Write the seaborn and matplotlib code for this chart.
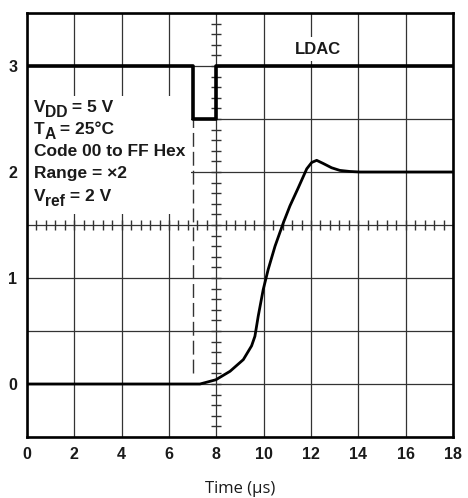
import numpy as np
import pandas as pd
import matplotlib
matplotlib.use("Agg")
import matplotlib.pyplot as plt
from matplotlib.patches import Rectangle
import seaborn as sns

# ---- data ----
time_us = [0, 7.31, 7.98, 8.58, 9.14, 9.49, 9.63, 9.77, 9.98, 10.19, 10.48,
           10.83, 11.11, 11.46, 11.82, 12.03, 12.24, 12.52, 12.87, 13.22,
           13.64, 14.07, 18]
vout = [0, 0, 0.04, 0.12, 0.23, 0.36, 0.45, 0.64, 0.89, 1.08, 1.30,
        1.52, 1.68, 1.85, 2.03, 2.09, 2.11, 2.08, 2.04, 2.015,
        2.005, 2.0, 2.0]
ldac_time = [0, 7, 8, 18]
ldac_level = [3, 2.5, 3, 3]
x_ticks = [0, 2, 4, 6, 8, 10, 12, 14, 16, 18]
y_ticks = [0, 1, 2, 3]
# (main, subscript, rest)
notes = [("V", "DD", " = 5 V"), ("T", "A", " = 25°C"),
         ("Code 00 to FF Hex", "", ""), ("Range = ×2", "", ""),
         ("V", "ref", " = 2 V")]
note_y = [2.570, 2.361, 2.150, 1.939, 1.731]

sns.set_theme(style="white")
plt.rcParams["font.family"] = ["Liberation Sans", "DejaVu Sans"]

fig = plt.figure(figsize=(4.68, 4.98), dpi=100)
ax = fig.add_axes([27 / 468, 61 / 498, 426 / 468, 424 / 498])

gc = "#333333"
tc = "#1a1a1a"
ax.set_xlim(0, 18)
ax.set_ylim(-0.5, 3.5)
ax.set_xticks(x_ticks)
ax.set_yticks(y_ticks)
ax.set_yticks(np.arange(-0.5, 3.51, 0.5), minor=True)
ax.set_axisbelow(True)
ax.grid(True, which="both", axis="y", color=gc, lw=0.9)
ax.grid(True, which="major", axis="x", color=gc, lw=0.9)
ax.tick_params(which="both", length=0, pad=7, labelsize=11.5)
for lab in ax.get_xticklabels() + ax.get_yticklabels():
    lab.set_fontweight("bold")
    lab.set_color(tc)
for s in ax.spines.values():
    s.set_linewidth(1.9)
    s.set_color("black")
    s.set_visible(True)

# oscilloscope-style centre-line ticks
yt = np.arange(-0.4, 3.45, 0.1)
ax.plot(np.full_like(yt, 8.0), yt, ls="none", marker="_", ms=7, mew=1,
        color=gc, zorder=1.2)
xt = np.arange(0.4, 17.9, 0.4)
ax.plot(xt, np.full_like(xt, 1.5), ls="none", marker="|", ms=7, mew=1,
        color=gc, zorder=1.2)

# white area behind the notes
ax.add_patch(Rectangle((0, 1.6), 6.95, 1.12, fc="white", ec="none", zorder=1.5))

# dashed marker
ax.vlines(7, 0.1, 2.5, colors=gc, lw=1, linestyles=(0, (10, 3.6)), zorder=2)

df_out = pd.DataFrame({"t": time_us, "v": vout})
df_ldac = pd.DataFrame({"t": ldac_time, "v": ldac_level})
sns.lineplot(data=df_out, x="t", y="v", ax=ax, color="black", lw=2.0,
             errorbar=None, zorder=4)
sns.lineplot(data=df_ldac, x="t", y="v", ax=ax, color="black", lw=2.6,
             drawstyle="steps-post", errorbar=None, zorder=4)

renderer = fig.canvas.get_renderer()
fs = 12.5
for (main, sub, rest), yy in zip(notes, note_y):
    t1 = ax.text(0.3, yy, main, fontsize=fs, fontweight="bold", color=tc,
                 va="baseline", ha="left", zorder=3)
    if sub:
        w1 = t1.get_window_extent(renderer).width
        t2 = ax.annotate(sub, xy=(0.3, yy), xytext=(w1 - 0.5, -5),
                         textcoords="offset pixels", fontsize=fs * 0.9,
                         fontweight="bold", color=tc, va="baseline",
                         ha="left", zorder=3)
        w2 = t2.get_window_extent(renderer).width
        ax.annotate(rest, xy=(0.3, yy), xytext=(w1 + w2 - 1, 0),
                    textcoords="offset pixels", fontsize=fs,
                    fontweight="bold", color=tc, va="baseline",
                    ha="left", zorder=3)

ax.text(12.3, 3.16, "LDAC", fontsize=12, fontweight="bold", color=tc,
        ha="center", va="center", zorder=3,
        bbox=dict(fc="white", ec="none", pad=3))

ax.set_xlabel("Time (µs)", fontsize=12, family=["Open Sans", "DejaVu Sans"],
              labelpad=14, color=tc)
ax.set_ylabel("")

fig.savefig("out.png", dpi=100)
